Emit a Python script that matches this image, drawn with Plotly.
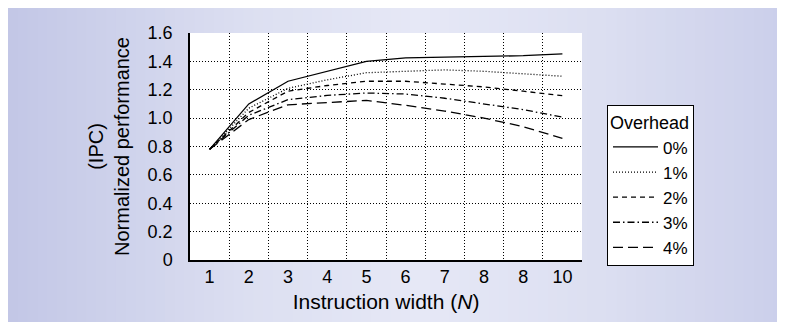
import plotly.graph_objects as go

# ---- data ----
x_vals = [1, 2, 3, 4, 5, 6, 7, 8, 9, 10]
x_tick_labels = ["1", "2", "3", "4", "5", "6", "7", "8", "8", "10"]
y_tick_vals = [0, 0.2, 0.4, 0.6, 0.8, 1.0, 1.2, 1.4, 1.6]
y_tick_labels = ["0", "0.2", "0.4", "0.6", "0.8", "1.0", "1.2", "1.4", "1.6"]

overhead_0 = [0.78, 1.10, 1.26, 1.33, 1.40, 1.425, 1.43, 1.435, 1.44, 1.453]
overhead_1 = [0.78, 1.07, 1.21, 1.27, 1.32, 1.33, 1.34, 1.33, 1.31, 1.295]
overhead_2 = [0.78, 1.04, 1.19, 1.23, 1.26, 1.26, 1.24, 1.22, 1.19, 1.158]
overhead_3 = [0.78, 1.02, 1.13, 1.16, 1.177, 1.17, 1.14, 1.10, 1.06, 1.007]
overhead_4 = [0.78, 0.99, 1.094, 1.11, 1.125, 1.09, 1.05, 1.00, 0.94, 0.858]

series_names = ["0%", "1%", "2%", "3%", "4%"]
series_values = [overhead_0, overhead_1, overhead_2, overhead_3, overhead_4]
series_dash = ["solid", "1px,2px", "5px,4px", "7px,3px,1.5px,3px", "10px,5px"]

FONT = "Liberation Sans, Arial, Helvetica, sans-serif"

fig = go.Figure()
for name, vals, dash in zip(series_names, series_values, series_dash):
    fig.add_trace(go.Scatter(
        x=x_vals, y=vals, name=name, mode="lines",
        line=dict(color="black", width=1.3, dash=dash),
    ))

# ---- layout geometry (figure coords; page adds 8px body margin) ----
W, H = 785, 322
ml, mr, mt, mb = 182, 211, 25, 70
pw, ph = W - ml - mr, H - mt - mb

def fx(px):
    return (px - ml) / pw

def fy(py):
    return (H - mb - py) / ph

# background gradient (style only)
stops = [(0, (194, 199, 230)), (240, (220, 223, 241)), (410, (230, 232, 246)),
         (590, (220, 223, 241)), (785, (202, 206, 234))]

def col_at(px):
    for (a, ca), (b, cb) in zip(stops[:-1], stops[1:]):
        if a <= px <= b:
            t = (px - a) / (b - a)
            return tuple(round(ca[i] + (cb[i] - ca[i]) * t) for i in range(3))
    return stops[-1][1]

shapes = []
n = 80
step = W / n
for i in range(n):
    a = i * step
    b = a + step
    c = col_at((a + b) / 2)
    shapes.append(dict(
        type="rect", xref="paper", yref="paper", layer="below",
        x0=fx(a), x1=fx(min(b + 1, W)),
        y0=fy(H), y1=fy(0),
        fillcolor="rgb(%d,%d,%d)" % c, line=dict(width=0),
    ))
shapes.append(dict(type="rect", xref="paper", yref="paper", layer="below",
                   x0=0, x1=1, y0=0, y1=1, fillcolor="white", line=dict(width=0)))

grid_dash = "1px,2px"

fig.update_layout(
    width=W, height=H,
    margin=dict(l=ml, r=mr, t=mt, b=mb, autoexpand=False),
    paper_bgcolor="rgb(215,218,239)",
    plot_bgcolor="white",
    font=dict(family=FONT, color="black", size=18),
    shapes=shapes,
    showlegend=True,
    legend=dict(
        title=dict(text="Overhead", font=dict(size=18)),
        x=fx(599), xanchor="left",
        y=fy(97), yanchor="top",
        bgcolor="white", bordercolor="black", borderwidth=1,
        font=dict(size=17), tracegroupgap=0, itemwidth=45,
    ),
    xaxis=dict(
        range=[0.5, 10.5],
        tickmode="array", tickvals=x_vals, ticktext=x_tick_labels,
        showgrid=False, zeroline=False,
        showline=True, linecolor="black", linewidth=1.5,
        ticks="", tickfont=dict(size=18),
        minor=dict(tickmode="array", tickvals=[1.5, 2.5, 3.5, 4.5, 5.5, 6.5, 7.5, 8.5, 9.5, 10.5],
                   showgrid=True, gridcolor="black", griddash=grid_dash, gridwidth=1, ticks=""),
        title=dict(text="Instruction width (<i>N</i>)", font=dict(size=21), standoff=8),
    ),
    yaxis=dict(
        range=[0, 1.6],
        tickmode="array", tickvals=y_tick_vals, ticktext=y_tick_labels,
        showgrid=True, gridcolor="black", griddash=grid_dash, gridwidth=1,
        zeroline=False,
        showline=True, linecolor="black", linewidth=1.5,
        ticks="", tickfont=dict(size=18), ticklabelstandoff=12,
        title=dict(text="(IPC)<br>Normalized performance", font=dict(size=20), standoff=13),
    ),
)

fig.write_html("out.html")
